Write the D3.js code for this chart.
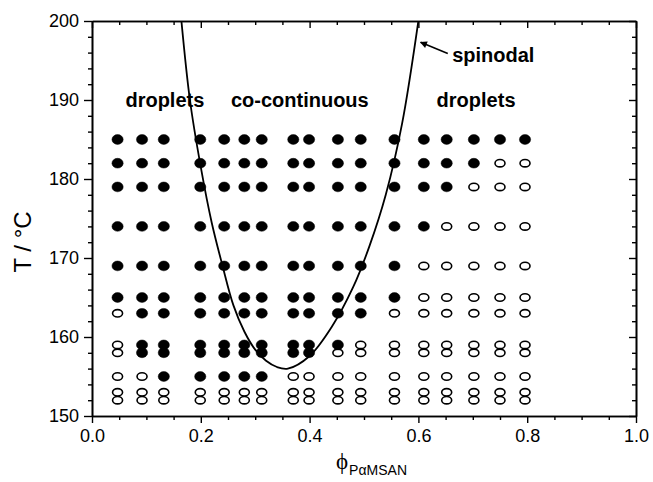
<!DOCTYPE html>
<html><head><meta charset="utf-8">
<script src="https://cdn.jsdelivr.net/npm/d3@7"></script>
<style>body{margin:0;background:#fff} svg{display:block}</style>
</head><body><svg id="chart" width="653" height="482"></svg>
<script>
// ---- data ----
const phiValues = [0.047, 0.092, 0.132, 0.199, 0.243, 0.280, 0.312, 0.370, 0.399, 0.452, 0.494, 0.556, 0.610, 0.652, 0.702, 0.750, 0.796];
const temperatures = [185, 182, 179, 174, 169, 165, 163, 159, 158, 155, 153, 152];
// 1 = filled (co-continuous), 0 = open (droplets), one row per temperature
const morphology = [
  [1,1,1,1,1,1,1,1,1,1,1,1,1,1,1,1,1],
  [1,1,1,1,1,1,1,1,1,1,1,1,1,1,1,0,0],
  [1,1,1,1,1,1,1,1,1,1,1,1,1,1,0,0,0],
  [1,1,1,1,1,1,1,1,1,1,1,1,1,0,0,0,0],
  [1,1,1,1,1,1,1,1,1,1,1,1,0,0,0,0,0],
  [1,1,1,1,1,1,1,1,1,1,1,1,0,0,0,0,0],
  [0,1,1,1,1,1,1,1,1,1,1,0,0,0,0,0,0],
  [0,1,1,1,1,1,1,1,1,1,0,0,0,0,0,0,0],
  [0,1,1,1,1,1,1,1,1,0,0,0,0,0,0,0,0],
  [0,0,1,1,1,1,1,0,0,0,0,0,0,0,0,0,0],
  [0,0,0,0,0,0,0,0,0,0,0,0,0,0,0,0,0],
  [0,0,0,0,0,0,0,0,0,0,0,0,0,0,0,0,0]
];
const spinodalPhi = [0.163, 0.18, 0.20, 0.22, 0.24, 0.26, 0.28, 0.30, 0.32, 0.34, 0.36, 0.40, 0.44, 0.48, 0.51, 0.54, 0.57, 0.602];
const spinodalT   = [201, 190, 181.5, 174.5, 169, 164.0, 160.7, 158.4, 157, 156.2, 156.0, 157.6, 161.2, 166.3, 171.5, 178, 187, 201];
const xTicks = [0, 0.2, 0.4, 0.6, 0.8, 1.0];
const yTicks = [150, 160, 170, 180, 190, 200];
const regionLabels = ["droplets", "co-continuous", "droplets"];
const curveLabel = "spinodal";

// ---- drawing ----
const svg = d3.select("#chart");
const x = d3.scaleLinear([0, 1], [92, 636]);
const y = d3.scaleLinear([150, 200], [416, 21]);
const font = "'Liberation Sans', Arial, sans-serif";

const xMinor = d3.range(0, 1.0001, 0.05).filter(v => Math.abs(v * 5 - Math.round(v * 5)) > 1e-6);
const yMinor = d3.range(150, 200.001, 2).filter(v => v % 10 !== 0);

function styleAxis(g) {
  g.selectAll("path.domain").attr("stroke", "#000").attr("stroke-width", 1.6);
  g.selectAll(".tick line").attr("stroke", "#000").attr("stroke-width", 1.4);
  g.selectAll(".tick text").attr("font-family", font).attr("font-size", 18).attr("fill", "#000");
}

// bottom
svg.append("g").attr("transform", `translate(0,${y(150)})`)
  .call(d3.axisBottom(x).tickValues(xMinor).tickSize(4).tickSizeOuter(0).tickFormat(""))
  .call(styleAxis);
svg.append("g").attr("transform", `translate(0,${y(150)})`)
  .call(d3.axisBottom(x).tickValues(xTicks).tickSize(7).tickSizeOuter(0).tickPadding(6).tickFormat(d3.format(".1f")))
  .call(styleAxis);
// top (inward)
svg.append("g").attr("transform", `translate(0,${y(200)})`)
  .call(d3.axisTop(x).tickValues(xMinor).tickSize(-4).tickSizeOuter(0).tickFormat(""))
  .call(styleAxis);
svg.append("g").attr("transform", `translate(0,${y(200)})`)
  .call(d3.axisTop(x).tickValues(xTicks).tickSize(-7).tickSizeOuter(0).tickFormat(""))
  .call(styleAxis);
// left
svg.append("g").attr("transform", `translate(${x(0)},0)`)
  .call(d3.axisLeft(y).tickValues(yMinor).tickSize(4).tickSizeOuter(0).tickFormat(""))
  .call(styleAxis);
svg.append("g").attr("transform", `translate(${x(0)},0)`)
  .call(d3.axisLeft(y).tickValues(yTicks).tickSize(8).tickSizeOuter(0).tickPadding(5).tickFormat(d3.format("d")))
  .call(styleAxis);
// right (inward)
svg.append("g").attr("transform", `translate(${x(1)},0)`)
  .call(d3.axisRight(y).tickValues(yMinor).tickSize(-4).tickSizeOuter(0).tickFormat(""))
  .call(styleAxis);
svg.append("g").attr("transform", `translate(${x(1)},0)`)
  .call(d3.axisRight(y).tickValues(yTicks).tickSize(-7).tickSizeOuter(0).tickFormat(""))
  .call(styleAxis);

// markers
const pts = [];
temperatures.forEach((t, i) => phiValues.forEach((p, j) => pts.push({p, t, f: morphology[i][j]})));
svg.append("g").selectAll("ellipse").data(pts).join("ellipse")
  .attr("cx", d => x(d.p)).attr("cy", d => y(d.t))
  .attr("rx", d => d.f ? 5.6 : 5.0)
  .attr("ry", d => d.f ? 4.9 : 3.7)
  .attr("fill", d => d.f ? "#000" : "none")
  .attr("stroke", "#000")
  .attr("stroke-width", d => d.f ? 0.5 : 1.6);

// spinodal
svg.append("clipPath").attr("id", "clip").append("rect")
  .attr("x", x(0)).attr("y", y(200)).attr("width", x(1) - x(0)).attr("height", y(150) - y(200));
const line = d3.line().x(d => x(d[0])).y(d => y(d[1])).curve(d3.curveCatmullRom.alpha(0.5));
svg.append("path").attr("clip-path", "url(#clip)")
  .attr("d", line(spinodalPhi.map((p, i) => [p, spinodalT[i]])))
  .attr("fill", "none").attr("stroke", "#000").attr("stroke-width", 1.8);

// labels
const lbl = svg.append("g").attr("font-family", font).attr("font-weight", "bold").attr("font-size", 20).attr("fill", "#000");
lbl.append("text").attr("x", x(0.134)).attr("y", y(189.1)).attr("text-anchor", "middle").text(regionLabels[0]);
lbl.append("text").attr("x", x(0.382)).attr("y", y(189.1)).attr("text-anchor", "middle").text(regionLabels[1]);
lbl.append("text").attr("x", x(0.706)).attr("y", y(189.1)).attr("text-anchor", "middle").text(regionLabels[2]);
lbl.append("text").attr("x", x(0.662)).attr("y", y(194.8)).text(curveLabel);

// arrow
svg.append("defs").append("marker").attr("id", "ah").attr("viewBox", "0 0 10 10")
  .attr("refX", 9).attr("refY", 5).attr("markerWidth", 9).attr("markerHeight", 7)
  .attr("markerUnits", "userSpaceOnUse").attr("orient", "auto")
  .append("path").attr("d", "M0,0 L10,5 L0,10 z").attr("fill", "#000");
svg.append("line").attr("x1", x(0.654)).attr("y1", y(195.9)).attr("x2", x(0.604)).attr("y2", y(197.3))
  .attr("stroke", "#000").attr("stroke-width", 1.6).attr("marker-end", "url(#ah)");

// axis titles
svg.append("text").attr("transform", `translate(23,242) rotate(-90)`).attr("dy", "0.35em")
  .attr("text-anchor", "middle").attr("font-family", font).attr("font-size", 24).text("T / °C");
const xt = svg.append("text").attr("x", 336).attr("y", 469).attr("font-family", font).attr("font-size", 23);
xt.append("tspan").attr("font-family", "'Liberation Serif', 'DejaVu Serif', serif").text("ϕ");
xt.append("tspan").attr("font-size", 14).attr("dx", 1).attr("dy", 6).text("PαMSAN");
</script></body></html>
